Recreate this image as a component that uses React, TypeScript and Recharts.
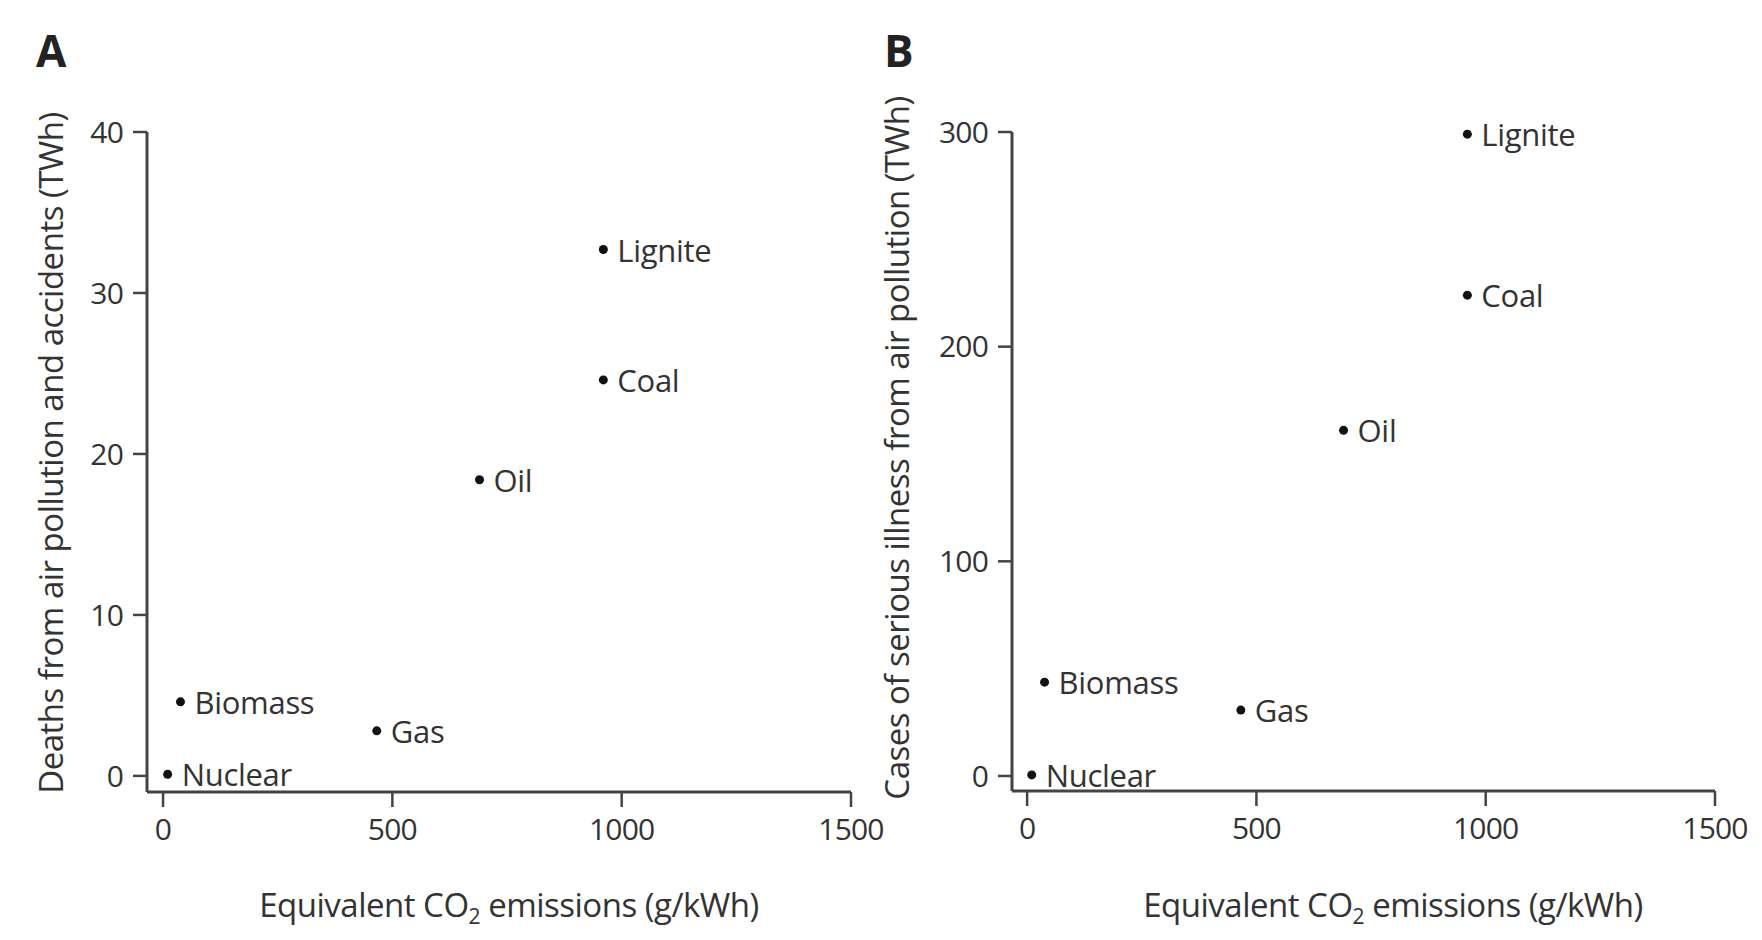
import React from 'react';
import { ScatterChart, Scatter, XAxis, YAxis } from 'recharts';

const sources = ['Nuclear', 'Biomass', 'Gas', 'Oil', 'Coal', 'Lignite'];
const co2Emissions = [10, 38, 466, 690, 960, 960];
const deaths = [0.1, 4.6, 2.8, 18.4, 24.6, 32.7];
const illness = [0.5, 43.7, 30.7, 161, 224, 299];
const xTicks = [0, 500, 1000, 1500];
const deathTicks = [0, 10, 20, 30, 40];
const illnessTicks = [0, 100, 200, 300];

const dataA = sources.map((name, i) => ({ name, x: co2Emissions[i], y: deaths[i] }));
const dataB = sources.map((name, i) => ({ name, x: co2Emissions[i], y: illness[i] }));

const FONT = "'Open Sans', 'Noto Sans', sans-serif";
const TEXT = '#333';
const AXIS = '#444';

const Dot = (p: any) => (
  <g>
    <circle cx={p.cx} cy={p.cy} r={4.5} fill="#111" />
    <text
      x={p.cx + 14}
      y={p.cy}
      dominantBaseline="central"
      fontSize={31}
      fontFamily={FONT}
      fill={TEXT}
      letterSpacing={-0.3}
    >
      {p.payload.name}
    </text>
  </g>
);

const tickStyle = { fontSize: 30, fontFamily: FONT, fill: TEXT, letterSpacing: -0.8 };

function Panel(props: {
  data: any[];
  yDomain: [number, number];
  yTicks: number[];
  xMin: number;
  margin: any;
  width: number;
}) {
  return (
    <ScatterChart width={props.width} height={940} margin={props.margin}>
      <XAxis
        type="number"
        dataKey="x"
        domain={[props.xMin, 1500]}
        ticks={xTicks}
        height={60}
        axisLine={{ stroke: AXIS, strokeWidth: 3 }}
        tickLine={{ stroke: AXIS, strokeWidth: 2.5 }}
        tickSize={15}
        tickMargin={12}
        tick={tickStyle}
        interval={0}
      />
      <YAxis
        type="number"
        dataKey="y"
        domain={props.yDomain}
        ticks={props.yTicks}
        width={60}
        axisLine={{ stroke: AXIS, strokeWidth: 3 }}
        tickLine={{ stroke: AXIS, strokeWidth: 2.5 }}
        tickSize={14}
        tickMargin={10}
        tick={tickStyle}
        interval={0}
      />
      <Scatter data={props.data} isAnimationActive={false} shape={Dot} />
    </ScatterChart>
  );
}

const abs = (o: any) => ({ position: 'absolute' as const, fontFamily: FONT, color: TEXT, whiteSpace: 'nowrap' as const, ...o });

export default function App() {
  return (
    <div style={{ position: 'absolute', left: 0, top: 0, width: 1762, height: 940, background: '#fff', overflow: 'hidden' }}>
      <div style={{ position: 'absolute', left: 0, top: 0 }}>
        <Panel
          data={dataA}
          yDomain={[-1, 40]}
          yTicks={deathTicks}
          xMin={-35}
          width={920}
          margin={{ top: 132, right: 69, bottom: 88, left: 87 }}
        />
      </div>
      <div style={{ position: 'absolute', left: 920, top: 0 }}>
        <Panel
          data={dataB}
          yDomain={[-7, 300]}
          yTicks={illnessTicks}
          xMin={-33}
          width={842}
          margin={{ top: 132, right: 47, bottom: 89, left: 32 }}
        />
      </div>
      <div style={abs({ left: 36, top: 20, fontSize: 44, fontWeight: 700, color: '#222' })}>A</div>
      <div style={abs({ left: 884, top: 20, fontSize: 44, fontWeight: 700, color: '#222' })}>B</div>
      <div style={abs({ left: 50, top: 453, fontSize: 33, transform: 'translate(-50%, -50%) rotate(-90deg)', letterSpacing: -0.5 })}>
        Deaths from air pollution and accidents (TWh)
      </div>
      <div style={abs({ left: 896, top: 448, fontSize: 33, transform: 'translate(-50%, -50%) rotate(-90deg)', letterSpacing: -0.5 })}>
        Cases of serious illness from air pollution (TWh)
      </div>
      <div style={abs({ left: 509, top: 906, fontSize: 33, transform: 'translate(-50%, -50%)', letterSpacing: -0.5 })}>
        Equivalent CO<sub style={{ fontSize: 21 }}>2</sub> emissions (g/kWh)
      </div>
      <div style={abs({ left: 1393, top: 906, fontSize: 33, transform: 'translate(-50%, -50%)', letterSpacing: -0.5 })}>
        Equivalent CO<sub style={{ fontSize: 21 }}>2</sub> emissions (g/kWh)
      </div>
    </div>
  );
}
